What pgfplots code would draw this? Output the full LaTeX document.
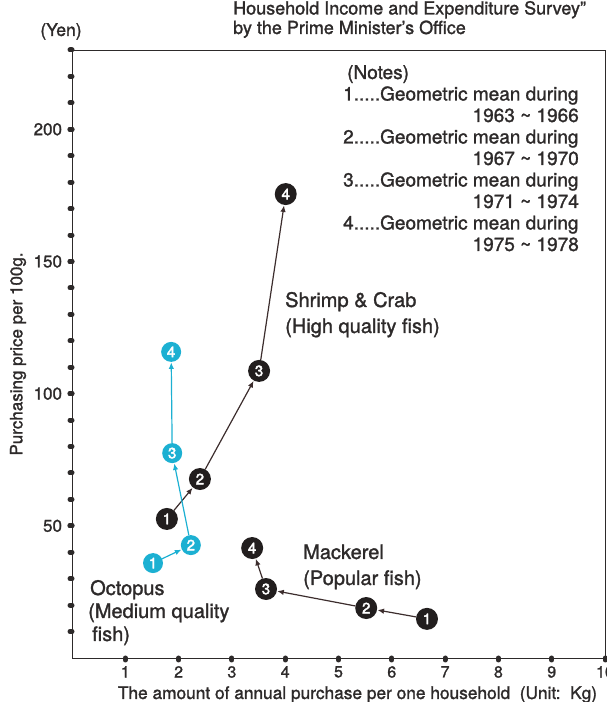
\documentclass[border=0pt]{standalone}
\usepackage{pgfplots}
\pgfplotsset{compat=1.18}
\usepackage{fontspec}
\setmainfont{TeX Gyre Heros}[FakeBold=1.4]
\newfontfamily\numfont{TeX Gyre Heros}[FakeBold=2.5]
\usetikzlibrary{arrows.meta}
\definecolor{ink}{RGB}{34,30,30}
\definecolor{seg}{RGB}{60,45,45}
\definecolor{octo}{RGB}{28,176,210}
\definecolor{txt}{RGB}{45,42,42}

\pgfplotstableread{
x y n
1.78 52.6 1
2.40 67.7 2
3.51 108.6 3
4.01 175.5 4
}\shrimp
\pgfplotstableread{
x y n
1.52 35.9 1
2.23 42.7 2
1.88 77.5 3
1.86 115.8 4
}\octopus
\pgfplotstableread{
x y n
6.66 14.8 1
5.52 18.9 2
3.64 26.1 3
3.38 41.6 4
}\mackerel

\begin{document}
\begin{tikzpicture}[x=1bp,y=1bp]
\useasboundingbox (0,0) rectangle (607,702);
\begin{axis}[
  at={(72bp,44bp)}, anchor=south west, scale only axis,
  width=533bp, height=608bp,
  xmin=0, xmax=10, ymin=0, ymax=230,
  axis line style={draw=txt, line width=0.9bp},
  xtick={1,2,...,10}, ytick={50,100,150,200},
  minor ytick={10,20,...,230},
  xtick pos=left, ytick pos=left,
  tick align=outside, major tick length=2bp, minor tick length=2bp,
  tick style={draw=txt, line width=5bp, line cap=round},
  ticklabel style={font=\fontsize{17bp}{17bp}\selectfont, text=txt},
  yticklabel style={xshift=-4.5bp},
  xticklabel style={yshift=-5bp, inner sep=1bp, font=\fontsize{16bp}{16bp}\selectfont},
  /pgf/number format/assume math mode=true,
  clip=false,
  xlabel={The amount of annual purchase per one household\ \ (Unit:\ \ Kg)},
  ylabel={Purchasing price per 100g.},
  every axis x label/.style={at={(rel axis cs:0.5356,-0.0674)}, anchor=base, inner sep=0pt,
     font=\fontsize{17.3bp}{17.3bp}\selectfont, text=txt},
  every axis y label/.style={at={(rel axis cs:-0.1013,0.5)}, anchor=center, rotate=90,
     font=\fontsize{17bp}{17bp}\selectfont, text=txt},
  arr/.style={-{Latex[length=6.5bp,width=5.5bp]}, line width=1.2bp, shorten >=11.5bp, shorten <=11bp},
  lab/.style={nodes near coords, point meta=explicit symbolic, draw=none, mark=none,
     every node near coord/.style={circle, fill=#1, text=white, minimum size=22bp, inner sep=0pt,
       anchor=center, font=\numfont\fontsize{15bp}{15bp}\selectfont}},
]
% Shrimp & Crab
\addplot[arr, seg] coordinates {(1.78,52.6) (2.40,67.7)};
\addplot[arr, seg] coordinates {(2.40,67.7) (3.51,108.6)};
\addplot[arr, seg] coordinates {(3.51,108.6) (4.01,175.5)};
% Octopus
\addplot[arr, octo, shorten >=10.5bp, shorten <=10bp] coordinates {(1.52,35.9) (2.23,42.7)};
\addplot[arr, octo, shorten >=10.5bp, shorten <=10bp] coordinates {(2.23,42.7) (1.88,77.5)};
\addplot[arr, octo, shorten >=10.5bp, shorten <=10bp] coordinates {(1.88,77.5) (1.86,115.8)};
% Mackerel
\addplot[arr, seg] coordinates {(6.66,14.8) (5.52,18.9)};
\addplot[arr, seg] coordinates {(5.52,18.9) (3.64,26.1)};
\addplot[arr, seg] coordinates {(3.64,26.1) (3.38,41.6)};
% numbered markers
\addplot[lab=ink] table[meta=n] {\shrimp};
\addplot[lab=ink] table[meta=n] {\mackerel};
\addplot[lab=octo, every node near coord/.append style={minimum size=20bp}] table[meta=n] {\octopus};
\end{axis}

\begin{scope}[every node/.style={inner sep=0pt, text=txt}]
% title (cut off at top)
\node[anchor=base west, font=\fontsize{18bp}{18bp}\selectfont] at (233,687.5) {Household Income and Expenditure Survey”};
\node[anchor=base west, font=\fontsize{18bp}{18bp}\selectfont] at (233,668) {by the Prime Minister’s Office};
\node[anchor=base, font=\fontsize{17.5bp}{17.5bp}\selectfont] at (61,666) {(Yen)};
% notes
\begin{scope}[every node/.append style={font=\fontsize{19bp}{19bp}\selectfont}]
\node[anchor=base west] at (347,623) {(Notes)};
\node[anchor=base west] at (343,601.5) {1.....Geometric mean during};
\node[anchor=base east] at (579,580) {1963 \textasciitilde\ 1966};
\node[anchor=base west] at (343,558.5) {2.....Geometric mean during};
\node[anchor=base east] at (579,537) {1967 \textasciitilde\ 1970};
\node[anchor=base west] at (343,515.5) {3.....Geometric mean during};
\node[anchor=base east] at (579,494) {1971 \textasciitilde\ 1974};
\node[anchor=base west] at (343,472.5) {4.....Geometric mean during};
\node[anchor=base east] at (579,451) {1975 \textasciitilde\ 1978};
\end{scope}
% series labels
\begin{scope}[every node/.append style={font=\fontsize{20bp}{20bp}\selectfont, anchor=base west}]
\node at (285,395) {Shrimp \& Crab};
\node at (285,369) {(High quality fish)};
\node at (303,143) {Mackerel};
\node at (303,117) {(Popular fish)};
\node at (90,107) {Octopus};
\node at (88,84) {(Medium quality};
\node at (92,61) {fish)};
\end{scope}
\end{scope}
\end{tikzpicture}
\end{document}
